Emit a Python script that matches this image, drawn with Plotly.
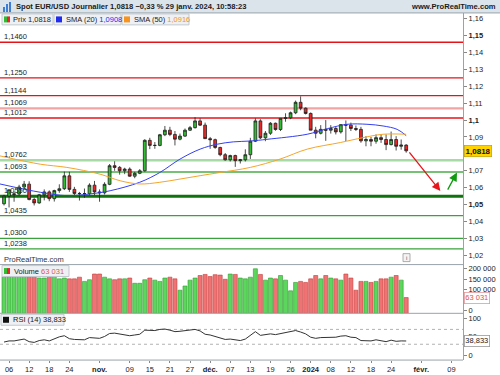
import plotly.graph_objects as go

# ---------------- DATA ----------------
# trading-day index 0 = 5 Oct 2023 ... 80 = 29 Jan 2024 (holidays 25 Dec / 1 Jan absent)
opens = [1.0505, 1.0550, 1.0560, 1.0563, 1.0604, 1.0621, 1.0530, 1.0510, 1.0558, 1.0575,
         1.0535, 1.0583, 1.0594, 1.0670, 1.0590, 1.0566, 1.0565, 1.0565, 1.0615, 1.0575,
         1.0570, 1.0620, 1.0730, 1.0720, 1.0700, 1.0710, 1.0668, 1.0685, 1.0700, 1.0880,
         1.0850, 1.0850, 1.0913, 1.0940, 1.0915, 1.0887, 1.0905, 1.0940, 1.0955, 1.0995,
         1.0970, 1.0890, 1.0884, 1.0838, 1.0795, 1.0765, 1.0790, 1.0760, 1.0765, 1.0795,
         1.0875, 1.0995, 1.0895, 1.0922, 1.0981, 1.0944, 1.1010, 1.1013, 1.1043, 1.1105,
         1.1070, 1.1039, 1.0940, 1.0922, 1.0945, 1.0940, 1.0950, 1.0930, 1.0973, 1.0970,
         1.0950, 1.0945, 1.0877, 1.0885, 1.0875, 1.0896, 1.0885, 1.0855, 1.0885, 1.0845,
         1.0852]
highs = [1.0558, 1.0588, 1.0578, 1.0617, 1.0640, 1.0638, 1.0541, 1.0563, 1.0590, 1.0584,
         1.0588, 1.0620, 1.0695, 1.0694, 1.0605, 1.0575, 1.0595, 1.0626, 1.0640, 1.0590,
         1.0632, 1.0740, 1.0756, 1.0728, 1.0718, 1.0720, 1.0694, 1.0710, 1.0887, 1.0895,
         1.0870, 1.0918, 1.0965, 1.0960, 1.0935, 1.0920, 1.0950, 1.0965, 1.1017, 1.1010,
         1.0985, 1.0900, 1.0890, 1.0842, 1.0805, 1.0795, 1.0795, 1.0770, 1.0827, 1.0895,
         1.1010, 1.1005, 1.0935, 1.0988, 1.0985, 1.1010, 1.1040, 1.1050, 1.1115, 1.1140,
         1.1075, 1.1045, 1.0960, 1.0970, 1.1000, 1.0970, 1.0960, 1.0975, 1.0998, 1.0985,
         1.0968, 1.0960, 1.0905, 1.0900, 1.0915, 1.0915, 1.0915, 1.0932, 1.0905, 1.0885,
         1.0857]
lows = [1.0495, 1.0483, 1.0517, 1.0553, 1.0589, 1.0525, 1.0495, 1.0505, 1.0525, 1.0520,
        1.0518, 1.0570, 1.0586, 1.0575, 1.0550, 1.0524, 1.0540, 1.0555, 1.0555, 1.0517,
        1.0560, 1.0615, 1.0700, 1.0677, 1.0680, 1.0665, 1.0656, 1.0680, 1.0695, 1.0828,
        1.0830, 1.0845, 1.0905, 1.0905, 1.0850, 1.0880, 1.0900, 1.0935, 1.0950, 1.0965,
        1.0888, 1.0830, 1.0830, 1.0786, 1.0760, 1.0755, 1.0723, 1.0743, 1.0755, 1.0770,
        1.0870, 1.0888, 1.0875, 1.0912, 1.0937, 1.0935, 1.0990, 1.1005, 1.1035, 1.1058,
        1.1033, 1.0940, 1.0892, 1.0915, 1.0877, 1.0920, 1.0915, 1.0920, 1.0876, 1.0935,
        1.0935, 1.0866, 1.0845, 1.0845, 1.0860, 1.0865, 1.0822, 1.0850, 1.0820, 1.0825,
        1.0807]
closes = [1.0550, 1.0588, 1.0563, 1.0604, 1.0621, 1.0530, 1.0510, 1.0558, 1.0575, 1.0535,
          1.0583, 1.0594, 1.0670, 1.0590, 1.0566, 1.0565, 1.0565, 1.0615, 1.0575, 1.0570,
          1.0620, 1.0730, 1.0720, 1.0700, 1.0710, 1.0668, 1.0685, 1.0700, 1.0880, 1.0850,
          1.0850, 1.0913, 1.0940, 1.0915, 1.0887, 1.0905, 1.0940, 1.0955, 1.0995, 1.0970,
          1.0890, 1.0884, 1.0838, 1.0795, 1.0765, 1.0790, 1.0760, 1.0765, 1.0795, 1.0875,
          1.0995, 1.0895, 1.0922, 1.0981, 1.0944, 1.1010, 1.1013, 1.1043, 1.1105, 1.1070,
          1.1039, 1.0940, 1.0922, 1.0945, 1.0940, 1.0950, 1.0930, 1.0973, 1.0970, 1.0950,
          1.0945, 1.0877, 1.0885, 1.0875, 1.0896, 1.0885, 1.0855, 1.0885, 1.0845, 1.0852,
          1.0818]
volumes = [163000, 163000, 172000, 175000, 175000, 163000, 168000, 156000, 156000, 168000,
           172000, 152000, 156000, 152000, 152000, 160000, 140000, 148000, 175000, 175000,
           160000, 152000, 148000, 152000, 152000, 156000, 131000, 131000, 148000, 156000,
           146000, 140000, 156000, 160000, 152000, 98000, 118000, 146000, 156000, 168000,
           173000, 163000, 172000, 170000, 150000, 175000, 173000, 156000, 152000, 160000,
           200000, 173000, 146000, 156000, 152000, 168000, 146000, 95000, 135000, 140000,
           135000, 152000, 168000, 152000, 168000, 156000, 152000, 146000, 175000, 156000,
           98000, 140000, 140000, 135000, 140000, 152000, 152000, 160000, 168000, 146000,
           63031]
rsi = [36, 39, 39, 41, 44, 37, 35, 40, 42, 39,
       45, 50, 53, 45, 43, 42, 42, 48, 46, 46,
       51, 59, 60, 58, 57, 53, 55, 57, 68, 67,
       67, 70, 71, 68, 64, 65, 67, 68, 70, 66,
       57, 55, 51, 47, 43, 44, 41, 40, 44, 54,
       64, 54, 55, 58, 56, 59, 60, 63, 67, 63,
       58, 49, 46, 48, 48, 49, 49, 52, 53, 49,
       48, 40, 40, 39, 42, 40, 37, 41, 38, 39,
       38.833]
sma20_idx = [-0.8, 7.2, 12.5, 17.1, 21.1, 27, 31, 35, 39, 42.4, 45.6, 49, 52.3, 60.3, 64.3, 68.3, 72.2, 75.4, 78.2, 80]
sma20_val = [1.0622, 1.0573, 1.0553, 1.0563, 1.0582, 1.0632, 1.0690, 1.0769, 1.0828, 1.0857,
             1.0871, 1.0876, 1.0886, 1.0916, 1.0949, 1.0975, 1.0975, 1.0965, 1.0945, 1.0908]
sma50_idx = [-0.8, 7.2, 12.5, 19.1, 23.1, 27, 31, 35, 39, 43, 49, 54.9, 60.3, 66.9, 71.4, 75.4, 80]
sma50_val = [1.0788, 1.0739, 1.0720, 1.0680, 1.0641, 1.0622, 1.0632, 1.0651, 1.0671, 1.0690,
             1.0720, 1.0769, 1.0828, 1.0867, 1.0896, 1.0916, 1.0916]

level_values = [1.1460, 1.1250, 1.1144, 1.1069, 1.1012, 1.0762, 1.0693, 1.0550, 1.0435, 1.0300, 1.0238]
level_labels = ['1,1460', '1,1250', '1,1144', '1,1069', '1,1012', '1,0762', '1,0693', '1,0550',
                '1,0435', '1,0300', '1,0238']

x_tick_idx = [1, 5, 9, 13, 19, 25, 29, 33, 37, 41, 45, 49, 53, 57, 61, 65, 69, 73, 77, 83, 89]
x_tick_text = ['06', '12', '18', '24', '<b>nov.</b>', '09', '15', '21', '27', '<b>déc.</b>', '07', '13',
               '19', '26', '<b>2024</b>', '08', '12', '18', '24', '<b>févr.</b>', '09']

price_ticks = [1.02, 1.03, 1.04, 1.05, 1.06, 1.07, 1.09, 1.10, 1.11, 1.12, 1.13, 1.14, 1.15, 1.16]
price_tick_text = ['1,02', '1,03', '1,04', '<b>1,05</b>', '1,06', '1,07', '1,09', '<b>1,1</b>',
                   '1,11', '1,12', '1,13', '1,14', '<b>1,15</b>', '1,16']
vol_ticks = [0, 100000, 150000, 200000]
vol_tick_text = ['0', '100 000', '150 000', '200 000']
rsi_ticks = [0, 50, 100]
rsi_tick_text = ['0', '50', '100']

last_price_text = '1,0818'
last_volume_text = '63 031'
last_rsi_text = '38,833'

# scenario arrows (tail -> head) in index / price units
red_arrow = (80.4, 1.0818, 86.8, 1.0580)
green_arrow = (88.1, 1.0580, 90.1, 1.0690)

# ---------------- STYLE / LAYOUT HELPERS ----------------
W, H = 500, 375
FONT = 'Liberation Sans'
def px(x): return x / W
def py(y): return 1 - y / H
PLOT_R = 463

level_colors = ['#e4141b', '#e4141b', '#e4141b', '#f2a3a3', '#e4141b', '#a6dba6', '#4aad4a',
                '#0f720f', '#3aa23a', '#3aa23a', '#3aa23a']
level_widths = [1.3, 1.3, 1.3, 2.4, 1.3, 2.6, 1.4, 3, 1.3, 1.3, 1.3]

idx = list(range(len(closes)))
GREEN, RED = '#33bb33', '#e82828'

fig = go.Figure()
fig.add_trace(go.Candlestick(
    x=idx, open=opens, high=highs, low=lows, close=closes,
    increasing=dict(line=dict(color='#1f1f1f', width=0.8), fillcolor=GREEN),
    decreasing=dict(line=dict(color='#1f1f1f', width=0.8), fillcolor=RED),
    whiskerwidth=0, xaxis='x', yaxis='y', showlegend=False, hoverinfo='skip'))
fig.add_trace(go.Scatter(x=sma20_idx, y=sma20_val, mode='lines', line=dict(color='#3540ee', width=1, shape='spline'),
                         xaxis='x', yaxis='y', showlegend=False, hoverinfo='skip'))
fig.add_trace(go.Scatter(x=sma50_idx, y=sma50_val, mode='lines', line=dict(color='#f4a52a', width=1, shape='spline'),
                         xaxis='x', yaxis='y', showlegend=False, hoverinfo='skip'))

VOL_FLOOR = -12000
vol_colors = ['#5cd65c' if c >= o else '#ef7373' for o, c in zip(opens, closes)]
vol_lines = ['#2f9a2f' if c >= o else '#c43c3c' for o, c in zip(opens, closes)]
fig.add_trace(go.Bar(x=idx, y=[v - VOL_FLOOR for v in volumes], base=VOL_FLOOR, width=0.8,
                     marker=dict(color=vol_colors, line=dict(color=vol_lines, width=0.6)),
                     xaxis='x', yaxis='y2', showlegend=False, hoverinfo='skip'))
fig.add_trace(go.Scatter(x=idx, y=rsi, mode='lines', line=dict(color='#333333', width=1),
                         xaxis='x', yaxis='y3', showlegend=False, hoverinfo='skip'))

shapes = []
# header bar
shapes.append(dict(type='rect', xref='paper', yref='paper', x0=0, x1=1, y0=py(13), y1=1,
                   fillcolor='#dbe3eb', line=dict(width=0), layer='below'))
# level lines
for v, c, w in zip(level_values, level_colors, level_widths):
    shapes.append(dict(type='line', xref='paper', yref='y', x0=0, x1=px(PLOT_R), y0=v, y1=v,
                       line=dict(color=c, width=w), layer='below'))
# RSI 70/30 dashed
for v in (70, 30):
    shapes.append(dict(type='line', xref='paper', yref='y3', x0=0, x1=px(PLOT_R), y0=v, y1=v,
                       line=dict(color='#a0a0a0', width=0.8, dash='3px,3px'), layer='below'))
# separators
for yy in (13, 266, 315, 362):
    shapes.append(dict(type='line', xref='paper', yref='paper', x0=0, x1=px(PLOT_R) if yy != 13 else 1,
                       y0=py(yy), y1=py(yy), line=dict(color='#9aa3ab', width=1)))
# header icon
for (x0, x1, y0) in ((3, 5, 7), (6, 8, 4), (9, 11, 2)):
    shapes.append(dict(type='rect', xref='paper', yref='paper', x0=px(x0), x1=px(x1), y0=py(12), y1=py(y0),
                       fillcolor='#3d7fd6', line=dict(width=0)))

def legend_box(x0, x1, y0, y1):
    shapes.append(dict(type='rect', xref='paper', yref='paper', x0=px(x0), x1=px(x1), y0=py(y1), y1=py(y0),
                       fillcolor='#eef0f3', line=dict(color='#c3c8ce', width=1)))
def icon(x0, y0, colors):
    n = len(colors)
    for k, c in enumerate(colors):
        shapes.append(dict(type='rect', xref='paper', yref='paper',
                           x0=px(x0 + 6 * k / n), x1=px(x0 + 6 * (k + 1) / n), y0=py(y0 + 6), y1=py(y0),
                           fillcolor=c, line=dict(width=0)))

legend_box(2, 53, 14, 25); icon(4, 16.5, [GREEN, RED])
legend_box(54, 121, 14, 25); icon(56, 16.5, ['#1f2cf0'])
legend_box(122, 189, 14, 25); icon(124, 16.5, ['#f7931e'])
legend_box(2, 69, 267, 278); icon(4, 269.5, [GREEN, RED])
legend_box(1, 64, 316, 327); icon(3, 318.5, ['#111111'])
# "i" box
shapes.append(dict(type='rect', xref='paper', yref='paper', x0=px(403), x1=px(410), y0=py(263), y1=py(255),
                   fillcolor='#f4f4f4', line=dict(color='#999', width=0.8)))

anns = []
def text(x, y, t, size=7.5, anchor='left', color='#1c1c1c', yanchor='middle'):
    anns.append(dict(xref='paper', yref='paper', x=px(x), y=py(y), text=t, showarrow=False,
                     xanchor=anchor, yanchor=yanchor, font=dict(family=FONT, size=size, color=color)))

text(14, 6.8, '<b>Spot EUR/USD Journalier 1,0818 −0,33 % 29 janv. 2024, 10:58:23</b>', size=7.6)
text(498, 6.8, '<b>www.ProRealTime.com</b>', size=7.6, anchor='right')
text(11, 19.7, 'Prix 1,0818')
text(64, 19.7, 'SMA (20) <span style="color:#1f2cf0">1,0908</span>')
text(132, 19.7, 'SMA (50) <span style="color:#f7931e">1,0916</span>')
text(12, 272.5, 'Volume <span style="color:#e05555">63 031</span>')
text(11, 321.5, 'RSI (14) 38,833')
text(2, 261, 'ProRealTime.com', color='#333')
text(406.5, 259, 'i', size=6, anchor='center', color='#555')

for v, lab in zip(level_values, level_labels):
    anns.append(dict(xref='paper', yref='y', x=px(2), y=v, text=lab, showarrow=False,
                     xanchor='left', yanchor='bottom', yshift=-1,
                     font=dict(family=FONT, size=7.5, color='#1c1c1c')))

# value tags on right axis
anns.append(dict(xref='paper', yref='y', x=px(464), y=closes[-1], text='<b>' + last_price_text + '</b>',
                 showarrow=False, xanchor='left', yanchor='middle', bgcolor='#ffd200', bordercolor='#b59a00',
                 borderwidth=0.6, borderpad=1, font=dict(family=FONT, size=8, color='#111')))
anns.append(dict(xref='paper', yref='y2', x=px(464), y=volumes[-1], text=last_volume_text,
                 showarrow=False, xanchor='left', yanchor='middle', bgcolor='#ffffff', bordercolor='#e59a9a',
                 borderwidth=0.8, borderpad=0.5, font=dict(family=FONT, size=7.5, color='#e05050')))
anns.append(dict(xref='paper', yref='y3', x=px(464), y=rsi[-1], text=last_rsi_text,
                 showarrow=False, xanchor='left', yanchor='middle', bgcolor='#ffffff', bordercolor='#999',
                 borderwidth=0.8, borderpad=0.5, font=dict(family=FONT, size=7.5, color='#222')))

# arrows
for (ax0, ay0, hx, hy), col in ((red_arrow, '#e8141b'), (green_arrow, '#109a10')):
    anns.append(dict(x=hx, y=hy, ax=ax0, ay=ay0, xref='x', yref='y', axref='x', ayref='y',
                     showarrow=True, arrowhead=2, arrowsize=1.3, arrowwidth=1.3, arrowcolor=col, text=''))

axis_font = dict(family=FONT, size=7.5, color='#1c1c1c')
fig.update_layout(
    width=W, height=H, margin=dict(l=0, r=0, t=0, b=0),
    paper_bgcolor='white', plot_bgcolor='white', showlegend=False, hovermode=False,
    boxgap=0.2, bargap=0.2,
    shapes=shapes, annotations=anns,
    xaxis=dict(domain=[0, px(PLOT_R)], range=[-0.8, 91.3], anchor='y3', tickvals=x_tick_idx,
               ticktext=x_tick_text, ticks='outside', ticklen=2, tickcolor='#888', showgrid=False,
               zeroline=False, showline=False, tickfont=axis_font, rangeslider=dict(visible=False),
               fixedrange=True),
    yaxis=dict(domain=[py(266), py(13)], range=[1.01453, 1.16335], side='right', anchor='x',
               tickvals=price_ticks, ticktext=price_tick_text, ticks='outside', ticklen=3, tickcolor='#888',
               showgrid=False, zeroline=False, showline=True, linecolor='#9aa3ab', linewidth=1,
               tickfont=axis_font),
    yaxis2=dict(domain=[py(315), py(266)], range=[VOL_FLOOR, 220000], side='right', anchor='x',
                tickvals=vol_ticks, ticktext=vol_tick_text, ticks='outside', ticklen=3, tickcolor='#888',
                showgrid=False, zeroline=False, showline=True, linecolor='#9aa3ab', linewidth=1,
                tickfont=axis_font),
    yaxis3=dict(domain=[py(362), py(315)], range=[-12.6, 113.4], side='right', anchor='x',
                tickvals=rsi_ticks, ticktext=rsi_tick_text, ticks='outside', ticklen=3, tickcolor='#888',
                showgrid=False, zeroline=False, showline=True, linecolor='#9aa3ab', linewidth=1,
                tickfont=axis_font),
)

fig.write_html('out.html', config={'displayModeBar': False},
               post_script="document.body.style.margin='0';document.body.style.overflow='hidden';")
